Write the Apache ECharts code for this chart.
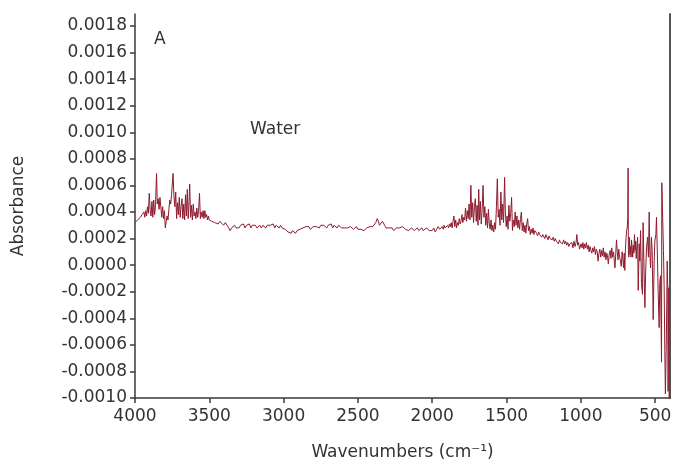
<!DOCTYPE html>
<html>
<head>
<meta charset="utf-8">
<script src="https://cdn.jsdelivr.net/npm/echarts@6/dist/echarts.min.js"></script>
<style>
  html, body { margin: 0; padding: 0; background: #fff; overflow: hidden; }
  #chart { width: 673px; height: 462px; }
</style>
</head>
<body>
<div id="chart"></div>
<script>
// Axis tick values
const wavenumberTicks = [4000, 3500, 3000, 2500, 2000, 1500, 1000, 500];
const absorbanceTicks = [-0.0010, -0.0008, -0.0006, -0.0004, -0.0002, 0.0000,
  0.0002, 0.0004, 0.0006, 0.0008, 0.0010, 0.0012, 0.0014, 0.0016, 0.0018];

// Water spectrum, [wavenumber (cm-1), absorbance], split by spectral region
const ohStretch = [
  [4000,3.2e-4],[3994,3.1e-4],[3988,3.3e-4],[3982,3.4e-4],[3976,3.3e-4],[3970,3.5e-4],
  [3964,3.6e-4],[3958,3.5e-4],[3952,3.8e-4],[3946,3.7e-4],[3940,4.0e-4],[3934,3.6e-4],
  [3928,4.1e-4],[3922,3.7e-4],[3916,4.4e-4],[3910,3.9e-4],[3904,5.4e-4],[3898,4.1e-4],
  [3892,3.7e-4],[3886,4.8e-4],[3880,3.6e-4],[3874,4.9e-4],[3868,3.8e-4],[3862,4.5e-4],
  [3855,6.9e-4],[3850,4.6e-4],[3844,5.0e-4],[3838,4.2e-4],[3832,5.1e-4],[3826,5.2e-4],
  [3820,3.6e-4],[3814,4.4e-4],[3808,3.5e-4],[3802,4.1e-4],[3796,2.8e-4],[3790,3.3e-4],
  [3784,3.7e-4],[3778,3.4e-4],[3772,4.2e-4],[3766,4.9e-4],[3760,4.6e-4],[3754,5.3e-4],
  [3744,6.9e-4],[3738,5.2e-4],[3732,4.4e-4],[3726,5.5e-4],[3720,3.5e-4],[3714,4.7e-4],
  [3708,3.8e-4],[3702,5.1e-4],[3696,3.6e-4],[3690,4.4e-4],[3684,5.0e-4],[3678,3.5e-4],
  [3672,4.6e-4],[3666,3.4e-4],[3660,5.3e-4],[3654,3.7e-4],[3648,5.7e-4],[3642,3.5e-4],
  [3636,4.8e-4],[3632,6.1e-4],[3626,3.6e-4],[3620,4.5e-4],[3614,3.4e-4],[3608,4.6e-4],
  [3602,3.7e-4],[3596,4.0e-4],[3590,3.5e-4],[3584,4.3e-4],[3578,3.6e-4],[3572,4.1e-4],
  [3566,5.4e-4],[3560,3.5e-4],[3554,4.0e-4],[3548,3.6e-4],[3542,4.1e-4],[3536,3.5e-4],
  [3530,4.1e-4],[3524,3.6e-4],[3518,3.8e-4],[3512,3.4e-4],[3506,3.7e-4],[3500,3.4e-4],
  [3492,3.5e-4],[3484,3.3e-4]
];

const midRange = [
  [3476,3.4e-4],[3464,3.2e-4],[3452,3.3e-4],[3440,3.1e-4],[3428,3.3e-4],[3416,3.2e-4],
  [3404,3.0e-4],[3392,3.2e-4],[3380,3.0e-4],[3370,2.8e-4],[3360,2.6e-4],[3350,2.8e-4],
  [3340,2.7e-4],[3330,3.0e-4],[3320,2.8e-4],[3310,2.9e-4],[3300,2.8e-4],[3290,3.0e-4],
  [3280,2.9e-4],[3270,3.1e-4],[3260,2.8e-4],[3250,3.0e-4],[3240,2.9e-4],[3230,3.1e-4],
  [3220,2.8e-4],[3210,3.0e-4],[3200,2.9e-4],[3190,3.0e-4],[3180,2.8e-4],[3170,2.9e-4],
  [3160,3.0e-4],[3150,2.8e-4],[3140,3.0e-4],[3130,2.9e-4],[3120,2.8e-4],[3110,3.0e-4],
  [3100,2.9e-4],[3090,3.0e-4],[3080,2.9e-4],[3070,3.1e-4],[3060,2.8e-4],[3050,3.0e-4],
  [3040,2.9e-4],[3030,2.8e-4],[3020,3.0e-4],[3010,2.8e-4],[3000,2.9e-4],[2990,2.7e-4],
  [2980,2.6e-4],[2970,2.5e-4],[2960,2.6e-4],[2950,2.4e-4],[2940,2.6e-4],[2930,2.5e-4],
  [2920,2.4e-4],[2910,2.6e-4],[2900,2.5e-4],[2890,2.7e-4],[2880,2.6e-4],[2870,2.8e-4],
  [2860,2.7e-4],[2850,2.9e-4],[2840,2.8e-4],[2830,2.9e-4],[2820,2.7e-4],[2810,2.8e-4],
  [2800,2.9e-4],[2790,2.8e-4],[2780,2.9e-4],[2770,3.0e-4],[2760,2.8e-4],[2750,3.0e-4],
  [2740,2.9e-4],[2730,3.0e-4],[2720,2.9e-4],[2710,2.8e-4],[2700,3.0e-4],[2690,2.9e-4],
  [2680,3.1e-4],[2670,2.8e-4],[2660,3.0e-4],[2650,2.9e-4],[2640,2.8e-4],[2630,3.0e-4],
  [2620,2.9e-4],[2610,2.8e-4],[2600,2.9e-4],[2590,2.8e-4],[2580,2.9e-4],[2570,2.8e-4],
  [2560,2.7e-4],[2550,2.9e-4],[2540,2.8e-4],[2530,2.7e-4],[2520,2.8e-4],[2510,2.9e-4],
  [2500,2.7e-4],[2490,2.8e-4],[2480,2.7e-4],[2470,2.8e-4],[2460,2.6e-4],[2450,2.7e-4],
  [2440,2.8e-4],[2430,2.7e-4],[2420,2.9e-4],[2410,2.8e-4],[2400,2.9e-4],[2390,3.0e-4],
  [2380,3.2e-4],[2370,3.5e-4],[2362,3.3e-4],[2355,3.0e-4],[2345,3.1e-4],[2335,3.3e-4],
  [2328,3.2e-4],[2320,3.0e-4],[2310,2.8e-4],[2300,2.7e-4],[2290,2.8e-4],[2280,2.7e-4],
  [2270,2.8e-4],[2260,2.6e-4],[2250,2.7e-4],[2240,2.8e-4],[2230,2.7e-4],[2220,2.8e-4],
  [2210,2.7e-4],[2200,2.9e-4],[2190,2.8e-4],[2180,2.7e-4],[2170,2.8e-4],[2160,2.6e-4],
  [2150,2.7e-4],[2140,2.8e-4],[2130,2.7e-4],[2120,2.6e-4],[2110,2.7e-4],[2100,2.8e-4],
  [2090,2.6e-4],[2080,2.7e-4],[2070,2.8e-4],[2060,2.6e-4],[2050,2.7e-4],[2040,2.8e-4],
  [2030,2.7e-4],[2020,2.6e-4],[2010,2.7e-4],[2000,2.6e-4],[1990,2.8e-4],[1980,2.5e-4],
  [1970,2.7e-4],[1960,2.9e-4],[1950,2.7e-4]
];

const hohBend = [
  [1944,2.8e-4],[1938,2.6e-4],[1932,2.9e-4],[1926,2.7e-4],[1920,3.0e-4],[1914,2.8e-4],
  [1908,2.9e-4],[1902,2.7e-4],[1896,3.0e-4],[1890,2.8e-4],[1884,3.1e-4],[1878,2.9e-4],
  [1872,3.2e-4],[1866,2.8e-4],[1860,3.3e-4],[1854,3.7e-4],[1848,2.9e-4],[1842,3.4e-4],
  [1836,2.8e-4],[1830,3.2e-4],[1824,3.0e-4],[1818,3.5e-4],[1812,3.1e-4],[1806,3.3e-4],
  [1800,3.8e-4],[1794,3.2e-4],[1788,3.6e-4],[1782,3.4e-4],[1776,4.3e-4],[1770,3.3e-4],
  [1764,4.1e-4],[1758,3.5e-4],[1752,4.6e-4],[1746,3.4e-4],[1740,6.0e-4],[1734,3.6e-4],
  [1728,4.7e-4],[1722,3.2e-4],[1716,4.4e-4],[1710,5.0e-4],[1704,3.3e-4],[1698,4.5e-4],
  [1692,3.0e-4],[1687,5.7e-4],[1682,3.4e-4],[1676,4.8e-4],[1670,3.1e-4],[1664,4.2e-4],
  [1658,6.0e-4],[1652,3.6e-4],[1646,4.4e-4],[1640,3.0e-4],[1634,3.9e-4],[1628,2.8e-4],
  [1622,4.2e-4],[1616,3.1e-4],[1610,2.7e-4],[1604,3.4e-4],[1598,2.6e-4],[1592,3.0e-4],
  [1586,2.5e-4],[1580,3.2e-4],[1574,2.7e-4],[1568,4.4e-4],[1562,6.5e-4],[1556,3.6e-4],
  [1550,4.2e-4],[1544,3.0e-4],[1538,5.5e-4],[1532,3.4e-4],[1526,4.6e-4],[1520,3.2e-4],
  [1513,6.6e-4],[1508,4.0e-4],[1502,2.9e-4],[1496,3.7e-4],[1490,2.7e-4],[1484,4.5e-4],
  [1478,3.3e-4],[1472,3.9e-4],[1466,5.1e-4],[1460,2.6e-4],[1454,3.4e-4],[1448,2.9e-4],
  [1442,4.0e-4],[1436,3.0e-4],[1430,3.7e-4],[1424,2.8e-4],[1418,3.4e-4],[1412,2.7e-4],
  [1406,3.5e-4],[1400,4.0e-4],[1394,2.6e-4],[1388,3.2e-4],[1382,2.5e-4],[1376,3.0e-4],
  [1370,2.4e-4],[1364,3.1e-4],[1358,3.5e-4],[1352,2.6e-4],[1346,2.9e-4],[1340,2.3e-4],
  [1334,2.7e-4],[1328,2.4e-4],[1322,2.8e-4],[1316,2.3e-4],[1310,2.6e-4],[1304,2.5e-4]
];

const fingerprint = [
  [1298,2.4e-4],[1291,2.2e-4],[1284,2.5e-4],[1277,2.3e-4],[1270,2.4e-4],[1263,2.1e-4],
  [1256,2.3e-4],[1249,2.2e-4],[1242,2.0e-4],[1235,2.3e-4],[1228,2.1e-4],[1221,1.9e-4],
  [1214,2.2e-4],[1207,2.0e-4],[1200,2.1e-4],[1193,1.9e-4],[1186,2.1e-4],[1179,1.8e-4],
  [1172,2.0e-4],[1165,1.8e-4],[1158,1.9e-4],[1151,1.6e-4],[1144,1.9e-4],[1137,1.7e-4],
  [1130,1.8e-4],[1123,1.6e-4],[1116,1.9e-4],[1109,1.6e-4],[1102,1.8e-4],[1095,1.5e-4],
  [1088,1.7e-4],[1081,1.4e-4],[1074,1.6e-4],[1067,1.5e-4],[1060,1.7e-4],[1053,1.3e-4],
  [1046,1.8e-4],[1039,1.4e-4],[1032,1.7e-4],[1027,2.3e-4],[1021,1.5e-4],[1015,1.7e-4],
  [1009,1.2e-4],[1004,1.1e-4],[998,1.6e-4],[992,1.3e-4],[986,1.7e-4],[980,1.2e-4],
  [974,1.6e-4],[968,1.3e-4],[962,1.7e-4],[956,1.2e-4],[950,1.5e-4],[944,1.0e-4],
  [938,1.4e-4],[932,1.1e-4],[926,0.9e-4],[920,1.3e-4],[914,1.0e-4],[908,1.4e-4],
  [902,0.8e-4],[896,1.2e-4],[890,1.0e-4],[884,0.3e-4],[878,0.9e-4],[872,1.2e-4],
  [866,0.6e-4],[860,1.1e-4],[854,0.7e-4],[849,1.3e-4],[843,0.6e-4],[837,1.0e-4],
  [831,0.4e-4],[825,0.9e-4],[819,0.5e-4],[815,0.1e-4],[809,0.8e-4],[803,1.1e-4],
  [797,0.5e-4],[792,1.3e-4],[786,0.6e-4],[780,1.0e-4],[774,0.2e-4],[770,-0.2e-4],
  [765,0.9e-4],[760,1.9e-4],[755,1.0e-4],[750,0.4e-4],[745,1.2e-4],[741,0.8e-4],
  [737,0.5e-4]
];

const librationTail = [
  [733,0.3e-4],[728,-0.1e-4],[722,1.0e-4],[717,0.4e-4],[712,-0.2e-4],[708,0.9e-4],
  [704,-0.4e-4],[700,1.2e-4],[696,2.0e-4],[692,2.6e-4],[688,2.8e-4],[684,3.6e-4],
  [682,7.3e-4],[680,1.0e-4],[677,0.6e-4],[673,2.1e-4],[669,0.8e-4],[666,1.4e-4],
  [662,0.6e-4],[659,1.9e-4],[655,1.3e-4],[651,0.6e-4],[647,1.5e-4],[643,0.9e-4],
  [639,2.3e-4],[635,1.1e-4],[631,1.8e-4],[627,0.5e-4],[625,1.1e-4],[618,2.1e-4],
  [614,-1.9e-4],[607,1.6e-4],[603,0.3e-4],[598,2.6e-4],[592,-1.4e-4],[585,-2.2e-4],
  [581,3.2e-4],[576,0.3e-4],[569,-3.2e-4],[563,-0.2e-4],[558,1.3e-4],[551,2.1e-4],
  [545,0.6e-4],[540,4.0e-4],[536,1.1e-4],[531,-0.2e-4],[525,2.1e-4],[520,1.1e-4],
  [513,-4.1e-4],[507,0.1e-4],[502,1.8e-4],[495,2.3e-4],[491,3.6e-4],[484,0.3e-4],
  [480,-1.9e-4],[473,-4.7e-4],[469,-1.4e-4],[464,-0.8e-4],[460,-4.5e-4],[457,-7.3e-4],
  [455,6.2e-4],[446,6.2e-4],[444,1.1e-4],[439,-1.9e-4],[435,-6.5e-4],[431,-9.7e-4],
  [424,-5.2e-4],[419,0.3e-4],[415,-1.7e-4],[413,-9.5e-4],[408,-1.7e-4],[406,-10.0e-4],
  [402,-10.2e-4]
];

const spectrum = [].concat(ohStretch, midRange, hohBend, fingerprint, librationTail);

const textColor = '#333333';
const axisColor = '#3a3a3a';
const fontFamily = 'DejaVu Sans';

const chart = echarts.init(document.getElementById('chart'), null, { renderer: 'canvas' });

chart.setOption({
  animation: false,
  backgroundColor: '#ffffff',
  grid: { left: 135, right: 3, top: 14, bottom: 64, containLabel: false, outerBoundsMode: 'none' },
  xAxis: {
    type: 'value',
    inverse: true,
    min: 400,
    max: 4000,
    name: 'Wavenumbers (cm\u207B\u00B9)',
    nameLocation: 'middle',
    nameGap: 46,
    nameTextStyle: { color: textColor, fontSize: 17, fontFamily: fontFamily },
    axisLine: { show: true, onZero: false, lineStyle: { color: axisColor, width: 1.5 } },
    axisTick: { show: true, length: 5, lineStyle: { color: axisColor, width: 1.5 },
      customValues: wavenumberTicks },
    axisLabel: { color: textColor, fontSize: 17, fontFamily: fontFamily, margin: 10,
      customValues: wavenumberTicks,
      formatter: function (v) { return String(v); } },
    splitLine: { show: false }
  },
  yAxis: [{
    type: 'value',
    min: -0.0010,
    max: 0.00189,
    interval: 0.0002,
    name: 'Absorbance',
    nameLocation: 'middle',
    nameGap: 108,
    nameTextStyle: { color: textColor, fontSize: 17, fontFamily: fontFamily },
    axisLine: { show: true, onZero: false, lineStyle: { color: axisColor, width: 1.5 } },
    axisTick: { show: true, length: 5, lineStyle: { color: axisColor, width: 1.5 },
      customValues: absorbanceTicks },
    axisLabel: { color: textColor, fontSize: 17, fontFamily: fontFamily, margin: 8,
      customValues: absorbanceTicks,
      formatter: function (v) { return v.toFixed(4); } },
    splitLine: { show: false }
  }, {
    type: 'value',
    position: 'right',
    min: -0.0010,
    max: 0.00189,
    axisLine: { show: true, onZero: false, lineStyle: { color: '#555555', width: 2 } },
    axisTick: { show: false },
    axisLabel: { show: false },
    splitLine: { show: false }
  }],
  series: [{
    name: 'Water',
    type: 'line',
    data: spectrum,
    showSymbol: false,
    symbol: 'none',
    clip: true,
    lineStyle: { color: '#8e1b2e', width: 1 },
    z: 3
  }],
  graphic: [
    { type: 'text', left: 154, top: 31,
      style: { text: 'A', fill: textColor, font: '17px "DejaVu Sans"' } },
    { type: 'text', left: 250, top: 121,
      style: { text: 'Water', fill: textColor, font: '17px "DejaVu Sans"' } }
  ]
});
</script>
</body>
</html>
